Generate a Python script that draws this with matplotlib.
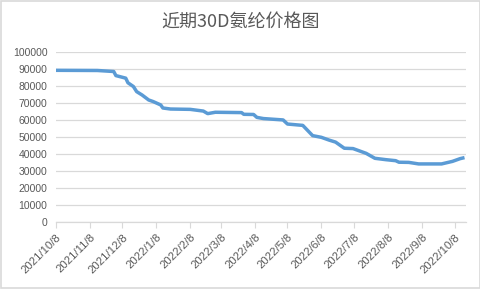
import matplotlib
matplotlib.use('Agg')
import matplotlib.pyplot as plt
import pandas as pd

# Price series (breakpoints of the line)
dates = ['2021-10-08', '2021-11-15', '2021-11-30', '2021-12-02', '2021-12-11',
         '2021-12-13', '2021-12-18', '2021-12-21', '2021-12-26', '2022-01-01',
         '2022-01-05', '2022-01-12', '2022-01-14', '2022-01-21', '2022-02-08',
         '2022-02-20', '2022-02-24', '2022-03-03', '2022-03-27', '2022-03-29',
         '2022-04-07', '2022-04-10', '2022-04-16', '2022-05-04', '2022-05-08',
         '2022-05-22', '2022-05-31', '2022-06-08', '2022-06-15', '2022-06-21',
         '2022-06-29', '2022-07-07', '2022-07-13', '2022-07-19', '2022-07-27',
         '2022-08-06', '2022-08-15', '2022-08-18', '2022-08-27', '2022-09-05',
         '2022-09-26', '2022-10-06', '2022-10-13', '2022-10-17']
prices = [89100, 89000, 88400, 86000, 84500,
          81800, 79600, 76600, 74600, 71700,
          70800, 68800, 67000, 66400, 66200,
          65200, 63700, 64500, 64300, 63300,
          63200, 61500, 60800, 60000, 57600,
          56800, 50800, 49800, 48200, 47000,
          43400, 43200, 41800, 40400, 37500,
          36700, 36100, 35200, 35100, 34200,
          34200, 35700, 37300, 37900]

tick_dates = ['2021-10-08', '2021-11-08', '2021-12-08', '2022-01-08', '2022-02-08',
              '2022-03-08', '2022-04-08', '2022-05-08', '2022-06-08', '2022-07-08',
              '2022-08-08', '2022-09-08', '2022-10-08']
tick_labels = ['2021/10/8', '2021/11/8', '2021/12/8', '2022/1/8', '2022/2/8',
               '2022/3/8', '2022/4/8', '2022/5/8', '2022/6/8', '2022/7/8',
               '2022/8/8', '2022/9/8', '2022/10/8']
y_ticks = list(range(0, 100001, 10000))

TEXT = '#595959'
GRID = '#d9d9d9'

plt.rcParams['font.family'] = ['Liberation Sans', 'Noto Sans CJK SC', 'DejaVu Sans']

fig = plt.figure(figsize=(4.81, 2.89), dpi=100)
ax = fig.add_axes([0.116, 0.231, 0.852, 0.590])

x = pd.to_datetime(dates)
ax.plot(x, prices, color='#5b9bd5', linewidth=2.5, solid_capstyle='butt')

ax.set_ylim(0, 100000)
ax.set_yticks(y_ticks)
ax.set_yticklabels([str(v) for v in y_ticks])
ax.set_xlim(pd.Timestamp('2021-10-08'), pd.Timestamp('2022-10-18'))
ax.set_xticks(pd.to_datetime(tick_dates))
ax.set_xticklabels(tick_labels, rotation=45, ha='right', rotation_mode='anchor')

ax.grid(axis='y', color=GRID, linewidth=0.9)
ax.set_axisbelow(True)
for side in ['top', 'right', 'left']:
    ax.spines[side].set_visible(False)
ax.spines['bottom'].set_color(GRID)
ax.spines['bottom'].set_linewidth(0.9)
ax.tick_params(axis='y', length=0, labelsize=7.5, labelcolor=TEXT, pad=6)
ax.tick_params(axis='x', length=4, color=GRID, labelsize=8.2, labelcolor=TEXT, pad=3)
for lbl in ax.get_xticklabels():
    lbl.set_x(lbl.get_position()[0])

fig.text(0.5, 0.925, '近期30D氨纶价格图', ha='center', va='center', fontsize=13,
         color=TEXT, family=['Noto Sans CJK SC', 'DejaVu Sans'])

# chart border
border = plt.Rectangle((0.002, 0.003), 0.996, 0.994, transform=fig.transFigure,
                       fill=False, edgecolor=GRID, linewidth=1.2)
fig.patches.append(border)

fig.savefig('out.png', dpi=100)
